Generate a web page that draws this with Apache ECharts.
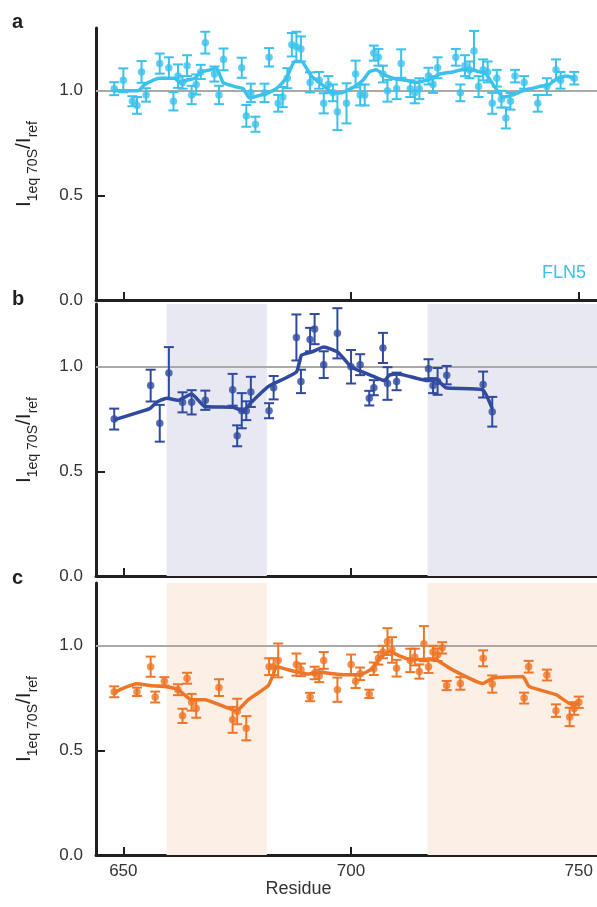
<!DOCTYPE html>
<html>
<head>
<meta charset="utf-8">
<script src="https://cdn.jsdelivr.net/npm/echarts@6/dist/echarts.min.js"></script>
<style>
html,body{margin:0;padding:0;background:#fff;}
#chart{width:597px;height:907px;}
</style>
</head>
<body>
<div id="chart"></div>
<script>
// ---------- DATA ----------
const xTicks = [650, 700, 750];
const yTicks = [0, 0.5, 1.0];
const panelNames = ['FLN5', 'FLN5\u039412', 'FLN5 Y719E'];
const panelLetters = ['a', 'b', 'c'];

// Panel a (FLN5)
const resA = [648,650,652,653,654,655,658,660,661,662,663,664,665,666,667,668,670,671,672,676,677,678,679,681,682,684,685,686,687,688,689,691,693,694,695,696,697,699,701,702,703,705,706,707,708,710,711,713,714,715,717,718,719,723,724,725,726,727,728,729,730,731,732,733,734,735,736,738,741,743,745,746,749];
const valA = [1.01,1.05,0.95,0.93,1.09,0.98,1.13,1.11,0.95,1.07,1.04,1.12,0.98,1.03,1.09,1.23,1.08,0.98,1.15,1.11,0.88,0.99,0.84,0.99,1.16,0.94,0.97,1.06,1.22,1.21,1.20,1.04,1.05,0.94,1.03,0.99,0.90,0.94,1.08,0.98,0.98,1.18,1.16,1.08,1.00,1.01,1.13,1.01,0.99,1.01,1.07,1.03,1.11,1.16,0.99,1.12,1.10,1.19,1.02,1.10,1.09,0.94,1.06,0.96,0.87,0.95,1.07,1.04,0.94,1.02,1.10,1.05,1.06];
const errA = [0.031,0.057,0.024,0.04,0.052,0.032,0.048,0.05,0.044,0.056,0.03,0.05,0.044,0.048,0.034,0.052,0.036,0.044,0.052,0.048,0.052,0.044,0.036,0.044,0.044,0.04,0.048,0.048,0.056,0.072,0.06,0.048,0.04,0.048,0.04,0.04,0.088,0.096,0.064,0.05,0.05,0.036,0.04,0.04,0.052,0.05,0.068,0.04,0.05,0.05,0.04,0.04,0.05,0.04,0.04,0.05,0.04,0.096,0.05,0.05,0.05,0.05,0.04,0.04,0.05,0.04,0.03,0.03,0.04,0.04,0.05,0.04,0.03];
const lineAx = [648.1,651,653.2,654.7,656.5,658,659.5,661.3,662.4,663.9,665.7,667.1,669,670.4,671.9,674.5,676.3,677.7,679.6,681.8,683.6,685.8,687.6,689.1,691.3,694.2,696,697.5,699,700.8,702.6,704,705.5,707,709.2,712.1,714.3,716.5,718,719.4,722.3,724.5,726.4,728.2,729.6,731.5,733.3,735.5,737.7,741.3,743.5,745.3,747.2,749];
const lineAy = [1.00,1.00,1.00,1.03,1.05,1.06,1.06,1.06,1.04,1.05,1.06,1.09,1.10,1.11,1.04,1.02,1.01,0.965,0.976,0.99,1.01,1.06,1.14,1.14,1.07,1.02,0.99,0.99,1.00,1.02,1.05,1.09,1.10,1.08,1.06,1.05,1.04,1.05,1.06,1.08,1.09,1.10,1.10,1.09,1.08,1.02,0.97,0.98,1.00,1.02,1.03,1.06,1.07,1.06];

// Panel b (FLN5Δ12)
const resB = [648,656,658,660,663,665,668,674,675,676,677,678,682,683,688,689,691,692,694,697,700,702,704,705,707,708,710,717,718,719,721,729,731];
const valB = [0.75,0.91,0.73,0.97,0.83,0.83,0.84,0.89,0.67,0.79,0.79,0.88,0.79,0.90,1.14,0.93,1.13,1.18,1.01,1.16,1.00,1.01,0.85,0.90,1.09,0.92,0.93,0.99,0.91,0.93,0.96,0.915,0.785];
const errB = [0.05,0.076,0.088,0.124,0.048,0.058,0.046,0.076,0.05,0.084,0.045,0.072,0.036,0.056,0.11,0.056,0.056,0.072,0.064,0.12,0.08,0.05,0.035,0.036,0.072,0.078,0.042,0.046,0.036,0.064,0.044,0.062,0.071];
const lineBx = [648,655.8,657.3,659.5,662,665,667.9,674.1,676.3,678.1,681.8,688,689.1,691.3,694,697.1,700,701.9,704.8,707.3,708.4,710.3,716.8,718.7,720.8,728.9,731];
const lineBy = [0.747,0.80,0.83,0.85,0.84,0.87,0.81,0.806,0.79,0.83,0.905,0.975,1.055,1.07,1.095,1.07,1.00,0.98,0.955,0.934,0.96,0.966,0.934,0.94,0.90,0.89,0.80];

// Panel c (FLN5 Y719E)
const resC = [648,653,656,657,659,662,663,664,665,666,671,674,675,677,682,683,684,688,689,691,692,693,694,697,700,701,702,704,705,706,707,708,709,710,713,714,715,716,717,718,719,720,721,724,729,731,738,739,743,745,748,749,750];
const valC = [0.78,0.78,0.90,0.755,0.83,0.79,0.665,0.845,0.73,0.70,0.80,0.646,0.686,0.606,0.90,0.90,0.93,0.91,0.885,0.755,0.87,0.856,0.93,0.79,0.91,0.83,0.866,0.77,0.89,0.94,0.97,1.02,0.98,0.893,0.93,0.946,0.877,1.01,0.90,0.97,0.957,0.99,0.81,0.82,0.94,0.817,0.75,0.90,0.86,0.69,0.66,0.70,0.73];
const errC = [0.026,0.02,0.048,0.026,0.02,0.026,0.034,0.026,0.04,0.044,0.04,0.062,0.061,0.058,0.04,0.04,0.081,0.053,0.03,0.02,0.03,0.03,0.04,0.058,0.048,0.032,0.03,0.02,0.03,0.03,0.03,0.064,0.061,0.04,0.056,0.04,0.034,0.084,0.03,0.03,0.03,0.027,0.022,0.03,0.038,0.041,0.026,0.028,0.026,0.03,0.044,0.03,0.027];
const lineCx = [648,650.3,652.9,656.2,659.1,662,665,667.9,674.8,677.4,681.8,682.9,683.6,687.6,690.5,693.5,698.6,700,701.9,704.8,706.3,708.4,710.6,713.2,716.5,718.7,722.3,728.9,731.1,737.7,739.1,745,748.6,750];
const lineCy = [0.777,0.80,0.818,0.809,0.805,0.79,0.742,0.742,0.689,0.742,0.809,0.861,0.90,0.877,0.865,0.872,0.861,0.861,0.861,0.893,0.94,0.973,0.952,0.933,0.936,0.933,0.885,0.82,0.845,0.853,0.805,0.766,0.718,0.725];

// shaded residue ranges (panels b and c)
const shadeRanges = [[659.5, 681.5], [716.8, 754]];

// ---------- STYLE ----------
const FONT = '"Liberation Sans", Arial, Helvetica, sans-serif';
const colors = ['#3bc2ec', '#2f4a9e', '#ee7628'];
const shadeColors = [null, '#e8e8f3', '#fbefe6'];
const X_MIN = 644, X_MAX = 754;
const gridTops = [28, 304, 583];
const GRID_H = 272;

const panels = [
  {res: resA, val: valA, err: errA, lx: lineAx, ly: lineAy},
  {res: resB, val: valB, err: errB, lx: lineBx, ly: lineBy},
  {res: resC, val: valC, err: errC, lx: lineCx, ly: lineCy}
];

const grids = [], xAxes = [], yAxes = [], series = [], graphics = [];

panels.forEach((p, i) => {
  grids.push({left: 96, width: 501, top: gridTops[i], height: GRID_H});
  xAxes.push({
    type: 'value', gridIndex: i, min: X_MIN, max: X_MAX,
    axisLine: {show: true, onZero: false, lineStyle: {color: '#231f20', width: 3}},
    axisTick: {show: true, inside: true, length: 8, customValues: xTicks, lineStyle: {color: '#231f20', width: 2}},
    axisLabel: {show: i === 2, customValues: xTicks, fontSize: 17, color: '#333', fontFamily: FONT, margin: 8},
    splitLine: {show: false}
  });
  yAxes.push({
    type: 'value', gridIndex: i, min: 0, max: 1.3,
    axisLine: {show: true, onZero: false, lineStyle: {color: '#231f20', width: 3}},
    axisTick: {show: true, inside: true, length: 9, customValues: yTicks, lineStyle: {color: '#231f20', width: 2}},
    axisLabel: {customValues: yTicks, formatter: v => v.toFixed(1), fontSize: 17, color: '#333', fontFamily: FONT, margin: 13},
    splitLine: {show: false},
    name: '{m|I}{s|1eq 70S}{m|/I}{s|ref}',
    nameLocation: 'middle', nameRotate: 90, nameGap: 60,
    nameTextStyle: {
      rich: {
        m: {fontSize: 21, fontFamily: FONT, color: '#231f20', lineHeight: 22, verticalAlign: 'top'},
        s: {fontSize: 14, fontFamily: FONT, color: '#231f20', lineHeight: 14, verticalAlign: 'top', padding: [12, 0, 0, 0]}
      }
    }
  });

  const color = colors[i];
  const lineData = p.lx.map((x, k) => [x, p.ly[k]]);
  const lineSeries = {
    type: 'line', xAxisIndex: i, yAxisIndex: i, data: lineData,
    showSymbol: false, smooth: 0.15, z: 3,
    lineStyle: {color: color, width: 3.5}, itemStyle: {color: color},
    markLine: {
      silent: true, symbol: 'none', label: {show: false},
      lineStyle: {color: '#a9a9a9', width: 2, type: 'solid'},
      data: [{yAxis: 1}], z: 1
    }
  };
  if (shadeColors[i]) {
    lineSeries.markArea = {
      silent: true, itemStyle: {color: shadeColors[i]},
      data: shadeRanges.map(r => [{xAxis: r[0]}, {xAxis: r[1]}])
    };
  }
  series.push(lineSeries);

  const errData = p.res.map((r, k) => [r, p.val[k], p.err[k]]);
  series.push({
    type: 'custom', xAxisIndex: i, yAxisIndex: i, data: errData, z: 4,
    renderItem: (params, api) => {
      const x = api.value(0), y = api.value(1), e = api.value(2);
      const top = api.coord([x, y + e]);
      const bot = api.coord([x, y - e]);
      const cw = 5;
      const st = {stroke: color, lineWidth: 2};
      return {
        type: 'group',
        children: [
          {type: 'line', shape: {x1: top[0], y1: top[1], x2: bot[0], y2: bot[1]}, style: st},
          {type: 'line', shape: {x1: top[0] - cw, y1: top[1], x2: top[0] + cw, y2: top[1]}, style: st},
          {type: 'line', shape: {x1: bot[0] - cw, y1: bot[1], x2: bot[0] + cw, y2: bot[1]}, style: st}
        ]
      };
    }
  });
  series.push({
    type: 'scatter', xAxisIndex: i, yAxisIndex: i, z: 5,
    data: p.res.map((r, k) => [r, p.val[k]]),
    symbolSize: 7.5, itemStyle: {color: color}
  });

  graphics.push({
    type: 'text', right: 11, top: gridTops[i] + 236,
    style: {text: panelNames[i], fill: color, font: '18px ' + FONT}
  });
  graphics.push({
    type: 'text', left: 12, top: [12, 289, 568][i],
    style: {text: panelLetters[i], fill: '#231f20', font: 'bold 20px ' + FONT}
  });
});

graphics.push({
  type: 'text', left: 'center', top: 880,
  style: {text: 'Residue', fill: '#333', font: '18px ' + FONT, x: 0}
});

const chart = echarts.init(document.getElementById('chart'), null, {renderer: 'canvas'});
chart.setOption({
  animation: false,
  backgroundColor: '#fff',
  grid: grids, xAxis: xAxes, yAxis: yAxes, series: series,
  graphic: graphics
});
</script>
</body>
</html>
